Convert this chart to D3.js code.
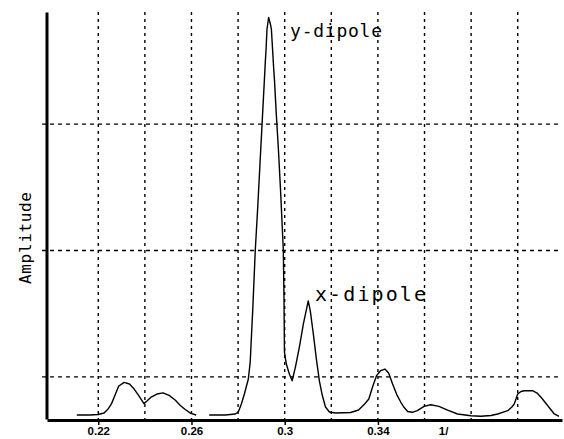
<!DOCTYPE html>
<html>
<head>
<meta charset="utf-8">
<script src="https://cdn.jsdelivr.net/npm/d3@7"></script>
<style>
  html, body { margin: 0; padding: 0; background: #fff; }
  svg { display: block; }
</style>
</head>
<body>
<script>
// ---- data ----
// segment 1 (left pair of small peaks)
const seg1X = [0.2108,0.2164,0.2199,0.2225,0.2242,0.2257,0.2272,0.2288,0.2311,0.2334,0.2354,0.2373,0.2396,0.2409,0.2427,0.2452,0.2478,0.2504,0.2530,0.2551,0.2573,0.2597,0.2620];
const seg1Y = [0.0095,0.0095,0.0107,0.0142,0.0237,0.0365,0.0569,0.0783,0.0870,0.0830,0.0711,0.0560,0.0365,0.0427,0.0522,0.0593,0.0621,0.0560,0.0451,0.0327,0.0225,0.0133,0.0095];
// segment 2 (dipole peaks and the rest)
const seg2X = [0.2676,0.2745,0.2788,0.2801,0.2814,0.2827,0.2844,0.2852,0.2863,0.2874,0.2885,0.2895,0.2904,0.2913,0.2917,0.2920,0.2924,0.2931,0.2939,0.2943,0.2948,0.2953,0.2956,0.2964,0.2973,0.2982,0.2990,0.2994,0.2997,0.2999,0.3007,0.3020,0.3032,0.3046,0.3063,0.3080,0.3101,0.3110,0.3123,0.3136,0.3149,0.3161,0.3175,0.3192,0.3218,0.3283,0.3317,0.3343,0.3361,0.3377,0.3394,0.3412,0.3430,0.3446,0.3463,0.3483,0.3498,0.3511,0.3528,0.3548,0.3569,0.3598,0.3627,0.3662,0.3699,0.3742,0.3799,0.3842,0.3885,0.3914,0.3957,0.3975,0.3985,0.4000,0.4014,0.4028,0.4064,0.4083,0.4100,0.4129,0.4157,0.4177];
const seg2Y = [0.0095,0.0095,0.0119,0.0166,0.0356,0.0593,0.0949,0.1352,0.2609,0.4031,0.5098,0.6166,0.7114,0.8063,0.8490,0.8774,0.9248,0.9533,0.9367,0.9248,0.8774,0.8300,0.8063,0.7233,0.6403,0.5454,0.4506,0.4031,0.2846,0.1589,0.1304,0.1067,0.0908,0.1233,0.1707,0.2253,0.2805,0.2561,0.2016,0.1423,0.0901,0.0569,0.0285,0.0166,0.0142,0.0154,0.0213,0.0356,0.0474,0.0759,0.1027,0.1150,0.1186,0.1091,0.0830,0.0553,0.0403,0.0285,0.0178,0.0159,0.0197,0.0301,0.0339,0.0301,0.0213,0.0119,0.0078,0.0064,0.0083,0.0119,0.0197,0.0285,0.0356,0.0593,0.0652,0.0671,0.0671,0.0617,0.0515,0.0315,0.0119,0.0064];

const xGridValues = [0.22,0.24,0.26,0.28,0.30,0.32,0.34,0.36,0.38,0.40];
const yGridValues = [0.1,0.4,0.7];
const xTickValues = [0.22,0.26,0.3,0.34,0.368];
const xTickLabels = ["0.22","0.26","0.3","0.34","1/"];
const annotations = [
  {text:"y-dipole", x:0.3023, y:0.907, size:18, len:92},
  {text:"x-dipole", x:0.3130, y:0.280, size:20, len:111}
];
const yTitle = "Amplitude";

// ---- layout ----
const W = 564, H = 439;
const x = d3.scaleLinear().domain([0.198, 0.419]).range([47, 562]);
const y = d3.scaleLinear().domain([0, 0.9663]).range([419, 12]);

const svg = d3.select("body").append("svg").attr("width", W).attr("height", H);

// gridlines
svg.append("g").selectAll("line").data(yGridValues).join("line")
  .attr("x1", 42).attr("x2", 562)
  .attr("y1", d => y(d)).attr("y2", d => y(d))
  .attr("stroke", "#000").attr("stroke-width", 1.4).attr("stroke-dasharray", "4,4");
svg.append("g").selectAll("line").data(xGridValues).join("line")
  .attr("x1", d => x(d)).attr("x2", d => x(d))
  .attr("y1", 12).attr("y2", 419)
  .attr("stroke", "#000").attr("stroke-width", 1.4).attr("stroke-dasharray", "3,4");

// curve
const line = d3.line().x(d => x(d[0])).y(d => y(d[1]));
[[seg1X, seg1Y], [seg2X, seg2Y]].forEach(([xs, ys]) => {
  svg.append("path")
    .datum(xs.map((v, i) => [v, ys[i]]))
    .attr("d", line)
    .attr("fill", "none").attr("stroke", "#000").attr("stroke-width", 1.4)
    .attr("stroke-linejoin", "round");
});

// x axis
const xAxis = d3.axisBottom(x).tickValues(xTickValues)
  .tickFormat((d, i) => xTickLabels[i]).tickSizeInner(5).tickSizeOuter(0).tickPadding(2);
const gx = svg.append("g").attr("transform", "translate(0,420)").call(xAxis);
gx.select(".domain").attr("stroke", "#000").attr("stroke-width", 3);
gx.selectAll(".tick line").attr("stroke-width", 1.5)
  .filter((d, i) => i === xTickValues.length - 1).remove();
gx.selectAll(".tick text").attr("font-family", "Liberation Sans, Arial, sans-serif")
  .attr("font-size", 11.5).attr("font-weight", "bold").attr("fill", "#000");

// y axis
const yAxis = d3.axisLeft(y).tickValues([]).tickSizeOuter(0);
const gy = svg.append("g").attr("transform", "translate(46.5,0)").call(yAxis);
gy.select(".domain").attr("stroke", "#000").attr("stroke-width", 3);

// y title
svg.append("text")
  .attr("transform", "translate(31," + 238 + ") rotate(-90)")
  .attr("text-anchor", "middle")
  .attr("font-family", "DejaVu Sans Mono, monospace").attr("font-size", 16)
  .attr("textLength", 92).attr("lengthAdjust", "spacing")
  .text(yTitle);

// annotations
svg.append("g").selectAll("text").data(annotations).join("text")
  .attr("x", d => x(d.x)).attr("y", d => y(d.y))
  .attr("font-family", "DejaVu Sans Mono, monospace")
  .attr("font-size", d => d.size)
  .attr("textLength", d => d.len).attr("lengthAdjust", "spacing")
  .text(d => d.text);
</script>
</body>
</html>
